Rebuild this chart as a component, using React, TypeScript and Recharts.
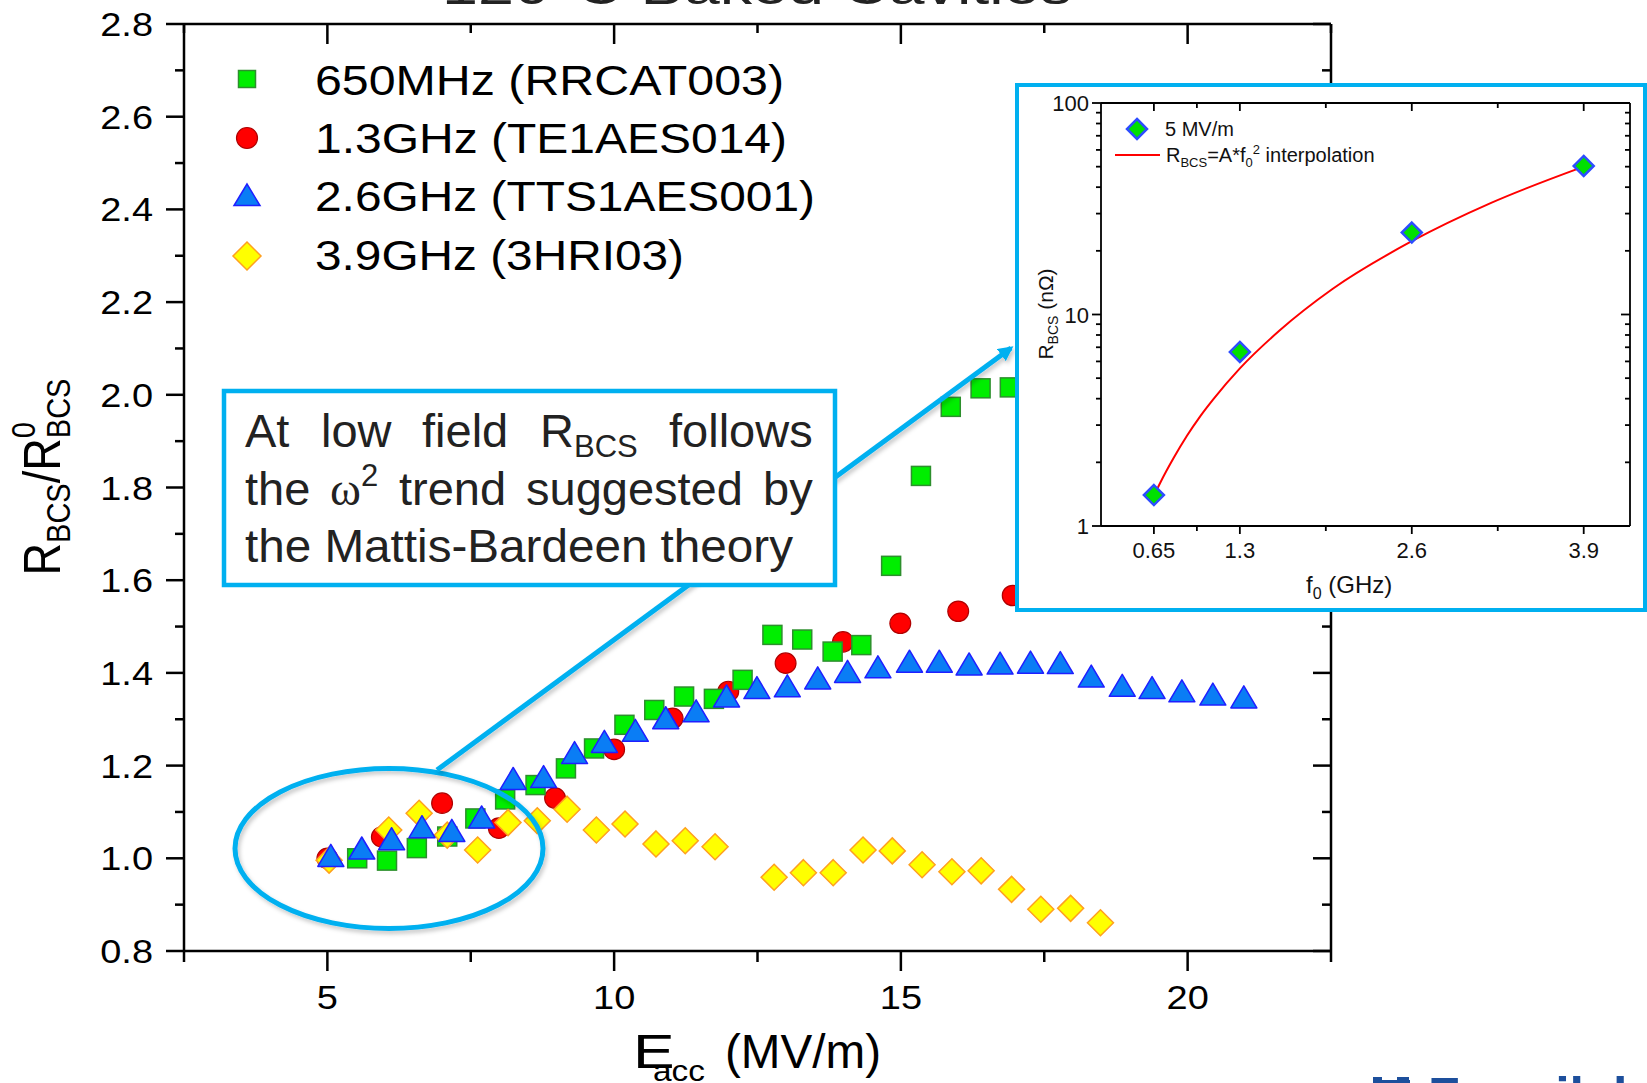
import React from 'react';
import { ScatterChart, Scatter, XAxis, YAxis, ComposedChart, Line } from 'recharts';

const FONT = '"Liberation Sans", Arial, Helvetica, sans-serif';
const SERIF = '"Liberation Serif", "Times New Roman", serif';
const CALLOUT = '#00b0f0';
const SX = 1.15;

// ---- main chart data: Eacc (MV/m) and R_BCS / R_BCS^0 ----
const eacc650 = [5.52, 6.04, 6.56, 7.09, 7.58, 8.10, 8.63, 9.16, 9.65, 10.18, 10.70, 11.22, 11.74, 12.24, 12.76, 13.28, 13.81, 14.31, 14.83, 15.35, 15.87, 16.39, 16.90];
const ratio650 = [1.0, 0.995, 1.022, 1.047, 1.086, 1.127, 1.158, 1.194, 1.237, 1.288, 1.32, 1.349, 1.344, 1.385, 1.482, 1.472, 1.446, 1.46, 1.631, 1.825, 1.974, 2.014, 2.016];

const eacc1300 = [5.0, 5.95, 7.0, 7.99, 8.97, 10.0, 11.02, 11.99, 12.99, 13.99, 14.99, 16.0, 16.95];
const ratio1300 = [1.0, 1.046, 1.119, 1.065, 1.13, 1.235, 1.302, 1.36, 1.421, 1.467, 1.507, 1.533, 1.567];

const eacc2600 = [5.06, 5.6, 6.12, 6.65, 7.17, 7.69, 8.24, 8.77, 9.31, 9.83, 10.37, 10.9, 11.43, 11.96, 12.49, 13.02, 13.55, 14.07, 14.6, 15.15, 15.67, 16.19, 16.73, 17.26, 17.78, 18.32, 18.86, 19.38, 19.9, 20.44, 20.98];
const ratio2600 = [1.003, 1.019, 1.039, 1.065, 1.057, 1.086, 1.169, 1.173, 1.225, 1.249, 1.273, 1.30, 1.315, 1.347, 1.365, 1.369, 1.386, 1.40, 1.41, 1.422, 1.422, 1.416, 1.418, 1.42, 1.419, 1.39, 1.37, 1.365, 1.358, 1.351, 1.345];

const eacc3900 = [5.03, 6.07, 6.6, 7.09, 7.62, 8.15, 8.66, 9.18, 9.69, 10.19, 10.73, 11.24, 11.76, 12.79, 13.3, 13.82, 14.34, 14.85, 15.37, 15.89, 16.4, 16.93, 17.44, 17.96, 18.48];
const ratio3900 = [0.996, 1.061, 1.097, 1.05, 1.018, 1.077, 1.081, 1.106, 1.061, 1.074, 1.031, 1.038, 1.025, 0.959, 0.969, 0.969, 1.018, 1.016, 0.986, 0.971, 0.973, 0.933, 0.89, 0.892, 0.861];

const seriesNames = ['650MHz (RRCAT003)', '1.3GHz (TE1AES014)', '2.6GHz (TTS1AES001)', '3.9GHz (3HRI03)'];

const xTicksMain = [2.5, 5, 7.5, 10, 12.5, 15, 17.5, 20, 22.5];
const xMajorMain = [5, 10, 15, 20];
const yTicksMain = [0.8, 0.9, 1.0, 1.1, 1.2, 1.3, 1.4, 1.5, 1.6, 1.7, 1.8, 1.9, 2.0, 2.1, 2.2, 2.3, 2.4, 2.5, 2.6, 2.7, 2.8];

// ---- inset data: f0 (GHz) and R_BCS (nOhm) at 5 MV/m ----
const freqGHz = [0.65, 1.3, 2.6, 3.9];
const rbcs5 = [1.40, 6.65, 24.4, 50.4];
const fitFreq = [0.65, 0.7, 0.8, 0.9, 1.0, 1.1, 1.3, 1.6, 2.0, 2.6, 3.2, 3.9];
const fitRbcs = [1.39, 1.61, 2.1, 2.67, 3.3, 3.98, 5.56, 8.4, 13.2, 22.2, 33.7, 50.0];

const insetXTicks = [0.65, 0.975, 1.3, 1.95, 2.6, 3.25, 3.9];
const insetXMajor = [0.65, 1.3, 2.6, 3.9];
const insetYTicks = [1, 2, 3, 4, 5, 6, 7, 8, 9, 10, 20, 30, 40, 50, 60, 70, 80, 90, 100];
const insetYMajor = [1, 10, 100];

const zip = (xs: number[], ys: number[]) => xs.map((x, i) => ({ x, y: ys[i] }));
const data650 = zip(eacc650, ratio650);
const data1300 = zip(eacc1300, ratio1300);
const data2600 = zip(eacc2600, ratio2600);
const data3900 = zip(eacc3900, ratio3900);
const insetPts = freqGHz.map((f, i) => ({ f, r: rbcs5[i] }));
const fitPts = fitFreq.map((f, i) => ({ f, r: fitRbcs[i] }));

// ---- marker shapes ----
const GreenSquare = (p: any) => (
  <rect x={p.cx - 9.5} y={p.cy - 9.5} width={19} height={19} fill="#00ee00" stroke="#2d8f2d" strokeWidth={1.5} />
);
const RedCircle = (p: any) => (
  <ellipse cx={p.cx} cy={p.cy} rx={10.4} ry={10.2} fill="#ff0000" stroke="#b00000" strokeWidth={1.2} />
);
const BlueTriangle = (p: any) => (
  <polygon
    points={`${p.cx},${p.cy - 12.5} ${p.cx - 13},${p.cy + 9.5} ${p.cx + 13},${p.cy + 9.5}`}
    fill="#0a7df5" stroke="#1f1fff" strokeWidth={1.5} strokeLinejoin="round"
  />
);
const YellowDiamond = (p: any) => (
  <polygon
    points={`${p.cx},${p.cy - 13} ${p.cx + 13},${p.cy} ${p.cx},${p.cy + 13} ${p.cx - 13},${p.cy}`}
    fill="#ffff00" stroke="#ffa020" strokeWidth={1.5}
  />
);
const InsetDiamond = (p: any) => (
  <polygon
    points={`${p.cx},${p.cy - 10} ${p.cx + 10},${p.cy} ${p.cx},${p.cy + 10} ${p.cx - 10},${p.cy}`}
    fill="#00e000" stroke="#2d4dff" strokeWidth={2.5}
  />
);

const AX = { stroke: '#000', strokeWidth: 2.5 };
const AXI = { stroke: '#000', strokeWidth: 1.8 };

const isMajorY = (v: number) => Math.round(v * 10) % 2 === 0;

// ---- main ticks ----
const MainLeftTick = (p: any) => {
  const { x, y, payload } = p;
  const v = payload.value;
  const major = isMajorY(v);
  return (
    <g>
      <line x1={x} y1={y} x2={x - (major ? 18 : 9)} y2={y} {...AX} />
      {major && (
        <text transform={`translate(${x - 31},${y + 12}) scale(${SX},1)`} textAnchor="end" fontSize={33} fontFamily={FONT} fill="#000">
          {v.toFixed(1)}
        </text>
      )}
    </g>
  );
};
const MainRightTick = (p: any) => {
  const { x, y, payload } = p;
  const major = isMajorY(payload.value);
  return <line x1={x} y1={y} x2={x - (major ? 18 : 9)} y2={y} {...AX} />;
};
const MainBottomTick = (p: any) => {
  const { x, y, payload } = p;
  const v = payload.value;
  const major = xMajorMain.includes(v);
  return (
    <g>
      <line x1={x} y1={y} x2={x} y2={y + (major ? 20 : 11)} {...AX} />
      {major && (
        <text transform={`translate(${x},${y + 58}) scale(${SX},1)`} textAnchor="middle" fontSize={33} fontFamily={FONT} fill="#000">
          {v}
        </text>
      )}
    </g>
  );
};
const MainTopTick = (p: any) => {
  const { x, y, payload } = p;
  const major = xMajorMain.includes(payload.value);
  return <line x1={x} y1={y} x2={x} y2={y + (major ? 20 : 9)} {...AX} />;
};

// ---- inset ticks ----
const InsetLeftTick = (p: any) => {
  const { x, y, payload } = p;
  const v = payload.value;
  const major = insetYMajor.includes(v);
  return (
    <g>
      <line x1={x} y1={y} x2={x - (major ? 9 : 5)} y2={y} {...AXI} />
      {major && (
        <text x={x - 12} y={y + 8} textAnchor="end" fontSize={22} fontFamily={FONT} fill="#111">
          {v}
        </text>
      )}
    </g>
  );
};
const InsetRightTick = (p: any) => {
  const { x, y, payload } = p;
  const major = insetYMajor.includes(payload.value);
  return <line x1={x} y1={y} x2={x - (major ? 9 : 5)} y2={y} {...AXI} />;
};
const InsetBottomTick = (p: any) => {
  const { x, y, payload } = p;
  const v = payload.value;
  const major = insetXMajor.includes(v);
  return (
    <g>
      <line x1={x} y1={y} x2={x} y2={y + (major ? 8 : 5)} {...AXI} />
      {major && (
        <text x={x} y={y + 32} textAnchor="middle" fontSize={22} fontFamily={FONT} fill="#111">
          {v}
        </text>
      )}
    </g>
  );
};
const InsetTopTick = (p: any) => {
  const { x, y, payload } = p;
  const major = insetXMajor.includes(payload.value);
  return <line x1={x} y1={y} x2={x} y2={y + (major ? 8 : 5)} {...AXI} />;
};

// ---- legend items (main) ----
const legendRows = [
  { cy: 79, base: 95, len: 469 },
  { cy: 138, base: 153, len: 472 },
  { cy: 196, base: 211, len: 500 },
  { cy: 256, base: 270, len: 369 },
];

const LegendMarker = ({ i, cx, cy }: { i: number; cx: number; cy: number }) => {
  if (i === 0) return <rect x={cx - 8.5} y={cy - 8.5} width={17} height={17} fill="#00ee00" stroke="#2d8f2d" strokeWidth={1.5} />;
  if (i === 1) return <ellipse cx={cx} cy={cy} rx={10.5} ry={10.5} fill="#ff0000" stroke="#b00000" strokeWidth={1.2} />;
  if (i === 2)
    return (
      <polygon points={`${cx},${cy - 12} ${cx - 13},${cy + 9.5} ${cx + 13},${cy + 9.5}`} fill="#0a7df5" stroke="#1f1fff" strokeWidth={1.5} />
    );
  return <polygon points={`${cx},${cy - 14} ${cx + 14},${cy} ${cx},${cy + 14} ${cx - 14},${cy}`} fill="#ffff00" stroke="#ffa020" strokeWidth={1.5} />;
};

const axisCommon = { interval: 0 as const, tickSize: 0, tickMargin: 0, tickLine: false, allowDataOverflow: true };

export default function App() {
  return (
    <div
      style={{
        position: 'fixed',
        left: 0,
        top: 0,
        width: 1647,
        height: 1083,
        overflow: 'hidden',
        background: '#fff',
        fontFamily: FONT,
      }}
    >
      <div style={{ position: 'absolute', left: 0, top: 0 }}>
        <ScatterChart width={1647} height={1083} margin={{ top: 23, right: 315, bottom: 131, left: 183 }}>
          <XAxis xAxisId="b" type="number" dataKey="x" domain={[2.5, 22.5]} ticks={xTicksMain} height={1} axisLine={AX} tick={MainBottomTick} {...axisCommon} />
          <XAxis xAxisId="t" orientation="top" type="number" dataKey="x" domain={[2.5, 22.5]} ticks={xTicksMain} height={1} axisLine={AX} tick={MainTopTick} {...axisCommon} />
          <YAxis yAxisId="l" type="number" dataKey="y" domain={[0.8, 2.8]} ticks={yTicksMain} width={1} axisLine={AX} tick={MainLeftTick} {...axisCommon} />
          <YAxis yAxisId="r" orientation="right" type="number" dataKey="y" domain={[0.8, 2.8]} ticks={yTicksMain} width={1} axisLine={AX} tick={MainRightTick} {...axisCommon} />
          <Scatter name={seriesNames[1]} xAxisId="b" yAxisId="l" data={data1300} shape={RedCircle} isAnimationActive={false} />
          <Scatter name={seriesNames[0]} xAxisId="b" yAxisId="l" data={data650} shape={GreenSquare} isAnimationActive={false} />
          <Scatter name={seriesNames[3]} xAxisId="b" yAxisId="l" data={data3900} shape={YellowDiamond} isAnimationActive={false} />
          <Scatter name={seriesNames[2]} xAxisId="b" yAxisId="l" data={data2600} shape={BlueTriangle} isAnimationActive={false} />
          <Scatter xAxisId="t" yAxisId="r" data={[]} isAnimationActive={false} />
        </ScatterChart>
      </div>

      <svg style={{ position: 'absolute', left: 0, top: 0 }} width={1647} height={1083}>
        <defs>
          <filter id="sh" x="-10%" y="-10%" width="130%" height="130%">
            <feDropShadow dx="2" dy="3" stdDeviation="2" floodColor="#000" floodOpacity="0.22" />
          </filter>
          <marker id="arr" markerWidth="3" markerHeight="3" refX="2.4" refY="1.5" orient="auto" markerUnits="strokeWidth">
            <path d="M0,0 L3,1.5 L0,3 z" fill={CALLOUT} />
          </marker>
        </defs>

        {/* title (cut off at the top) */}
        <text x={757} y={4} textAnchor="middle" fontSize={50} fontFamily={FONT} fill="#222" textLength={630} lengthAdjust="spacingAndGlyphs">
          120°C Baked Cavities
        </text>

        {/* legend */}
        {legendRows.map((r, i) => (
          <g key={i}>
            <LegendMarker i={i} cx={247} cy={r.cy} />
            <text x={315} y={r.base} fontSize={42} fontFamily={FONT} fill="#000" textLength={r.len} lengthAdjust="spacingAndGlyphs">
              {seriesNames[i]}
            </text>
          </g>
        ))}

        {/* axis titles */}
        <text transform={`translate(60,477) scale(${SX},1) rotate(-90)`} textAnchor="middle" fontSize={45} fontFamily={FONT} fill="#000">
          R<tspan fontSize={29} dy={9}>BCS</tspan>
          <tspan dy={-9}>/R</tspan>
          <tspan fontSize={29} dy={-22}>0</tspan>
          <tspan fontSize={29} dx={-16} dy={31}>BCS</tspan>
        </text>
        <text transform="translate(633,1068) scale(1.3,1)" fontSize={48} fontFamily={FONT} fill="#000">E</text>
        <text transform="translate(653,1081) scale(1.15,1)" fontSize={29} fontFamily={FONT} fill="#000">acc</text>
        <text x={725} y={1068} fontSize={48} fontFamily={FONT} fill="#000" textLength={156} lengthAdjust="spacingAndGlyphs">(MV/m)</text>

        {/* callout: ellipse + pointer line + text box */}
        <ellipse cx={389} cy={848.5} rx={154} ry={80} fill="none" stroke={CALLOUT} strokeWidth={5} filter="url(#sh)" />
        <line x1={437} y1={770} x2={1011} y2={348} stroke={CALLOUT} strokeWidth={5} markerEnd="url(#arr)" filter="url(#sh)" />
        <rect x={224} y={391} width={611} height={194} fill="#fff" stroke={CALLOUT} strokeWidth={4.5} />
        <g fontSize={47} fontFamily={FONT} fill="#222">
          <text x={245} y={447}>At</text>
          <text x={321} y={447}>low</text>
          <text x={422} y={447}>field</text>
          <text x={540} y={447}>
            R<tspan fontSize={31} dy={10}>BCS</tspan>
          </text>
          <text x={669} y={447}>follows</text>

          <text x={245} y={505}>the</text>
          <text x={330} y={505}>
            <tspan fontFamily={SERIF}>ω</tspan>
            <tspan fontSize={31} dy={-19}>2</tspan>
          </text>
          <text x={399} y={505}>trend</text>
          <text x={526} y={505}>suggested</text>
          <text x={763} y={505}>by</text>

          <text x={245} y={562} textLength={548} lengthAdjust="spacingAndGlyphs">the Mattis-Bardeen theory</text>
        </g>

        {/* logo (cut off at the bottom) */}
        <g fill="#1d4f9c">
          <rect x={1373} y={1077} width={9} height={8} />
          <rect x={1397} y={1077} width={12} height={8} />
          <rect x={1373} y={1080} width={37} height={5} />
          <text x={1428} y={1114} fontSize={52} fontWeight="bold" fontFamily={FONT}>Fermilab</text>
        </g>
      </svg>

      {/* inset */}
      <div
        style={{
          position: 'absolute',
          left: 1015,
          top: 83,
          width: 632,
          height: 529,
          border: `4px solid ${CALLOUT}`,
          boxSizing: 'border-box',
          background: '#fff',
        }}
      >
        <ComposedChart width={624} height={521} margin={{ top: 15, right: 12, bottom: 81, left: 81 }}>
          <XAxis xAxisId="b" type="number" dataKey="f" domain={[0.25, 4.25]} ticks={insetXTicks} height={1} axisLine={AXI} tick={InsetBottomTick} {...axisCommon} />
          <XAxis xAxisId="t" orientation="top" type="number" dataKey="f" domain={[0.25, 4.25]} ticks={insetXTicks} height={1} axisLine={AXI} tick={InsetTopTick} {...axisCommon} />
          <YAxis yAxisId="l" type="number" scale="log" dataKey="r" domain={[1, 100]} ticks={insetYTicks} width={1} axisLine={AXI} tick={InsetLeftTick} {...axisCommon} />
          <YAxis yAxisId="r" orientation="right" type="number" scale="log" dataKey="r" domain={[1, 100]} ticks={insetYTicks} width={1} axisLine={AXI} tick={InsetRightTick} {...axisCommon} />
          <Scatter xAxisId="b" yAxisId="l" data={insetPts} dataKey="r" shape={InsetDiamond} isAnimationActive={false} />
          <Line
            xAxisId="b"
            yAxisId="l"
            data={fitPts}
            dataKey="r"
            type="monotone"
            stroke="#ff0000"
            strokeWidth={2}
            dot={false}
            activeDot={false}
            isAnimationActive={false}
          />
          <Scatter xAxisId="t" yAxisId="r" data={[]} dataKey="r" isAnimationActive={false} />
        </ComposedChart>
      </div>

      {/* inset texts */}
      <svg style={{ position: 'absolute', left: 0, top: 0 }} width={1647} height={1083}>
        <polygon points="1137,119 1147,129 1137,139 1127,129" fill="#00e000" stroke="#2d4dff" strokeWidth={2.5} />
        <text x={1165} y={136} fontSize={20} fontFamily={FONT} fill="#111">5 MV/m</text>
        <line x1={1115} y1={155} x2={1160} y2={155} stroke="#ff0000" strokeWidth={2} />
        <text x={1166} y={162} fontSize={20} fontFamily={FONT} fill="#111">
          R<tspan fontSize={13} dy={5}>BCS</tspan>
          <tspan dy={-5}>=A*f</tspan>
          <tspan fontSize={13} dy={5}>0</tspan>
          <tspan fontSize={13} dy={-13}>2</tspan>
          <tspan dy={8}> interpolation</tspan>
        </text>
        <text transform="translate(1053,314) rotate(-90)" textAnchor="middle" fontSize={21} fontFamily={FONT} fill="#111">
          R<tspan fontSize={14} dy={5}>BCS</tspan>
          <tspan dy={-5}> (nΩ)</tspan>
        </text>
        <text x={1306} y={593} fontSize={24} fontFamily={FONT} fill="#111">
          f<tspan fontSize={16} dy={6}>0</tspan>
          <tspan dy={-6}> (GHz)</tspan>
        </text>
      </svg>
    </div>
  );
}
